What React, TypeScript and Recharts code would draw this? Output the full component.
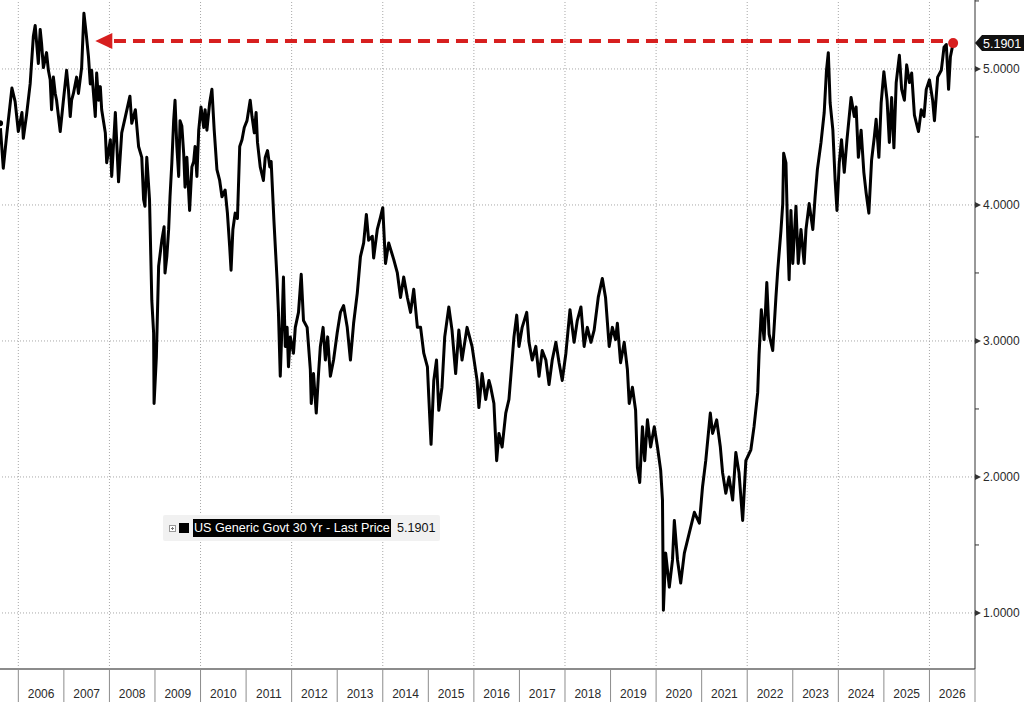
import { LineChart, Line, XAxis, YAxis, ReferenceLine, ReferenceDot } from "recharts"

// US Generic Govt 30 Yr yield, [year fraction, yield %]
const yields2005to2008: [number, number][] = [
  [2005.60, 4.60], [2005.67, 4.27], [2005.75, 4.53], [2005.86, 4.86], [2005.93, 4.76],
  [2006.00, 4.54], [2006.08, 4.68], [2006.11, 4.49], [2006.18, 4.66], [2006.26, 4.89],
  [2006.33, 5.24], [2006.37, 5.32], [2006.44, 5.04], [2006.48, 5.29], [2006.51, 5.19],
  [2006.55, 5.01], [2006.62, 5.12], [2006.66, 4.99], [2006.70, 4.92], [2006.73, 4.70],
  [2006.77, 4.94], [2006.81, 4.82], [2006.84, 4.77], [2006.92, 4.54], [2006.99, 4.77],
  [2007.06, 4.99], [2007.10, 4.85], [2007.14, 4.65], [2007.17, 4.77], [2007.21, 4.82],
  [2007.28, 4.94], [2007.32, 4.82], [2007.39, 5.01], [2007.44, 5.41], [2007.49, 5.26],
  [2007.54, 5.09], [2007.58, 4.89], [2007.61, 4.99], [2007.69, 4.65], [2007.72, 4.97],
  [2007.76, 4.77], [2007.80, 4.87], [2007.83, 4.70], [2007.91, 4.53], [2007.94, 4.31],
  [2008.02, 4.48], [2008.05, 4.21], [2008.13, 4.68], [2008.20, 4.17], [2008.27, 4.53],
  [2008.35, 4.65], [2008.45, 4.80], [2008.49, 4.60], [2008.57, 4.70], [2008.64, 4.43],
  [2008.71, 4.35], [2008.75, 4.04], [2008.78, 3.99], [2008.82, 4.35], [2008.88, 4.04],
  [2008.93, 3.30], [2008.97, 3.06], [2008.98, 2.54],
]

const yields2009to2012: [number, number][] = [
  [2009.03, 2.88], [2009.08, 3.55], [2009.15, 3.74], [2009.20, 3.84], [2009.22, 3.50],
  [2009.26, 3.62], [2009.30, 3.82], [2009.33, 4.06], [2009.37, 4.31], [2009.41, 4.62],
  [2009.44, 4.77], [2009.48, 4.43], [2009.52, 4.21], [2009.55, 4.62], [2009.59, 4.58],
  [2009.63, 4.38], [2009.66, 4.13], [2009.70, 4.35], [2009.76, 3.96], [2009.81, 4.28],
  [2009.85, 4.32], [2009.88, 4.43], [2009.92, 4.21], [2009.96, 4.55], [2010.01, 4.72],
  [2010.07, 4.57], [2010.10, 4.70], [2010.14, 4.55], [2010.20, 4.75], [2010.25, 4.85],
  [2010.30, 4.55], [2010.36, 4.26], [2010.42, 4.18], [2010.47, 4.06], [2010.54, 4.11],
  [2010.59, 3.94], [2010.64, 3.69], [2010.67, 3.52], [2010.71, 3.82], [2010.76, 3.94],
  [2010.81, 3.90], [2010.86, 4.43], [2010.91, 4.48], [2010.96, 4.57], [2011.02, 4.62],
  [2011.09, 4.77], [2011.13, 4.65], [2011.18, 4.53], [2011.22, 4.68], [2011.25, 4.46],
  [2011.31, 4.28], [2011.38, 4.18], [2011.42, 4.35], [2011.47, 4.40], [2011.52, 4.28],
  [2011.55, 4.32], [2011.61, 3.89], [2011.68, 3.45], [2011.71, 3.21], [2011.75, 2.74],
  [2011.79, 3.13], [2011.82, 3.47], [2011.86, 2.96], [2011.90, 3.10], [2011.93, 2.81],
  [2011.97, 3.03], [2012.04, 2.91], [2012.08, 3.10], [2012.15, 3.21], [2012.21, 3.49],
  [2012.26, 3.15], [2012.34, 3.10], [2012.41, 2.79], [2012.43, 2.54], [2012.48, 2.76],
  [2012.54, 2.47], [2012.59, 2.76], [2012.63, 2.96], [2012.69, 3.10], [2012.74, 2.86],
  [2012.79, 3.03], [2012.85, 2.74], [2012.92, 2.86],
]

const yields2013to2016: [number, number][] = [
  [2013.00, 3.06], [2013.07, 3.21], [2013.14, 3.26], [2013.22, 3.10], [2013.29, 2.86],
  [2013.36, 3.13], [2013.44, 3.35], [2013.51, 3.62], [2013.58, 3.72], [2013.64, 3.93],
  [2013.69, 3.74], [2013.77, 3.77], [2013.80, 3.61], [2013.88, 3.82], [2013.95, 3.91],
  [2014.00, 3.98], [2014.06, 3.57], [2014.13, 3.72], [2014.24, 3.60], [2014.32, 3.50],
  [2014.39, 3.32], [2014.46, 3.47], [2014.54, 3.32], [2014.61, 3.21], [2014.68, 3.38],
  [2014.76, 3.10], [2014.83, 3.10], [2014.90, 2.91], [2014.98, 2.81], [2015.01, 2.59],
  [2015.06, 2.24], [2015.12, 2.71], [2015.18, 2.86], [2015.23, 2.49], [2015.30, 2.66],
  [2015.36, 3.03], [2015.45, 3.25], [2015.52, 3.08], [2015.60, 2.76], [2015.67, 3.08],
  [2015.74, 2.86], [2015.85, 3.10], [2015.96, 2.96], [2016.07, 2.71], [2016.11, 2.51],
  [2016.18, 2.76], [2016.26, 2.57], [2016.33, 2.71], [2016.37, 2.66], [2016.44, 2.54],
  [2016.50, 2.12], [2016.55, 2.32], [2016.62, 2.22], [2016.70, 2.47], [2016.77, 2.57],
  [2016.84, 2.86], [2016.88, 3.03], [2016.94, 3.19], [2016.99, 2.96],
]

const yields2017to2020: [number, number][] = [
  [2017.06, 3.10], [2017.16, 3.21], [2017.21, 2.99], [2017.28, 2.86], [2017.36, 2.96],
  [2017.43, 2.74], [2017.50, 2.93], [2017.58, 2.86], [2017.65, 2.68], [2017.72, 2.86],
  [2017.80, 2.99], [2017.87, 2.84], [2017.94, 2.71], [2018.02, 2.91], [2018.11, 3.23],
  [2018.20, 2.99], [2018.27, 3.15], [2018.35, 3.25], [2018.42, 2.96], [2018.49, 3.10],
  [2018.57, 2.99], [2018.64, 3.08], [2018.73, 3.32], [2018.82, 3.46], [2018.89, 3.32],
  [2018.97, 2.96], [2019.04, 3.10], [2019.11, 3.01], [2019.15, 3.13], [2019.22, 2.84],
  [2019.30, 2.99], [2019.37, 2.79], [2019.41, 2.54], [2019.48, 2.66], [2019.55, 2.49],
  [2019.59, 2.07], [2019.64, 1.96], [2019.70, 2.37], [2019.75, 2.12], [2019.81, 2.42],
  [2019.88, 2.22], [2019.96, 2.37], [2020.03, 2.22], [2020.10, 2.05], [2020.14, 1.83],
  [2020.16, 1.02], [2020.21, 1.44], [2020.29, 1.19], [2020.36, 1.39], [2020.40, 1.68],
  [2020.47, 1.39], [2020.54, 1.22], [2020.62, 1.44], [2020.73, 1.59], [2020.84, 1.74],
  [2020.95, 1.66],
]

const yields2021to2024: [number, number][] = [
  [2021.02, 1.93], [2021.09, 2.12], [2021.19, 2.47], [2021.24, 2.32], [2021.33, 2.42],
  [2021.41, 2.22], [2021.46, 2.03], [2021.53, 1.88], [2021.60, 2.00], [2021.68, 1.83],
  [2021.75, 2.18], [2021.82, 2.03], [2021.90, 1.68], [2021.97, 2.12], [2022.08, 2.20],
  [2022.15, 2.37], [2022.23, 2.62], [2022.26, 2.90], [2022.31, 3.23], [2022.37, 3.01],
  [2022.43, 3.43], [2022.48, 3.05], [2022.56, 2.93], [2022.63, 3.32], [2022.67, 3.52],
  [2022.74, 3.81], [2022.78, 4.01], [2022.80, 4.38], [2022.85, 4.31], [2022.89, 3.76],
  [2022.92, 3.45], [2022.96, 3.96], [2023.00, 3.57], [2023.07, 3.99], [2023.12, 3.57],
  [2023.18, 3.82], [2023.25, 3.57], [2023.29, 3.82], [2023.36, 4.01], [2023.44, 3.82],
  [2023.49, 4.06], [2023.54, 4.26], [2023.62, 4.46], [2023.69, 4.68], [2023.74, 4.99],
  [2023.78, 5.12], [2023.82, 4.75], [2023.88, 4.55], [2023.93, 4.18], [2023.97, 3.96],
  [2024.02, 4.31], [2024.07, 4.48], [2024.13, 4.24], [2024.19, 4.48], [2024.28, 4.79],
  [2024.35, 4.65], [2024.39, 4.72], [2024.44, 4.35], [2024.50, 4.55], [2024.56, 4.24],
  [2024.61, 4.09], [2024.67, 3.94], [2024.73, 4.33], [2024.79, 4.50], [2024.83, 4.63],
  [2024.89, 4.35], [2024.94, 4.75],
]

const yields2025to2026: [number, number][] = [
  [2025.00, 4.98], [2025.07, 4.77], [2025.12, 4.46], [2025.17, 4.79], [2025.22, 4.42],
  [2025.27, 4.90], [2025.34, 5.10], [2025.39, 4.85], [2025.45, 4.77], [2025.50, 5.03],
  [2025.56, 4.90], [2025.61, 4.97], [2025.67, 4.66], [2025.76, 4.54], [2025.82, 4.70],
  [2025.88, 4.65], [2025.93, 4.85], [2026.00, 4.92], [2026.07, 4.77], [2026.11, 4.62],
  [2026.18, 4.94], [2026.26, 4.99], [2026.32, 5.16], [2026.37, 5.18], [2026.42, 4.85],
  [2026.46, 5.09], [2026.52, 5.1901],
]

const years = [2006, 2007, 2008, 2009, 2010, 2011, 2012, 2013, 2014, 2015, 2016,
  2017, 2018, 2019, 2020, 2021, 2022, 2023, 2024, 2025, 2026, 2027]
const gridYears = [2006, 2008, 2010, 2012, 2014, 2016, 2018, 2020, 2022, 2024, 2026]
const gridYields = [1, 2, 3, 4, 5]
const LAST_PRICE = 5.1901
const LAST_DATE = 2026.52
const yieldTicks = [1, 1.5, 2, 2.5, 3, 3.5, 4, 4.5, 5, LAST_PRICE, 5.5]
const ARROW_Y = 5.205
const ARROW_TIP = 2007.69
const DASH_START = 2008.1

const SERIES_NAME = "US Generic Govt 30 Yr - Last Price"

const series = [
  ...yields2005to2008, ...yields2009to2012, ...yields2013to2016,
  ...yields2017to2020, ...yields2021to2024, ...yields2025to2026,
].map(([t, v]) => ({ t, v }))

const W = 1024
const H = 702
const X_AXIS_H = 33
const Y_AXIS_W = 49
const X_MIN = 2005.598
const X_MAX = 2027.0
const HALF_YEAR = (W - Y_AXIS_W) / (X_MAX - X_MIN) / 2
const FONT = "'Liberation Sans', Arial, sans-serif"
const RED = "#d71f1f"

function YearTick(props: any) {
  const { x, y, payload } = props
  return (
    <g>
      <line x1={x} x2={x} y1={y} y2={y + X_AXIS_H} stroke="#8c8c8c" strokeWidth={1} />
      {payload.value < 2027 && (
        <text x={x + HALF_YEAR} y={y + 29} textAnchor="middle" fontSize={12} fontFamily={FONT} fill="#2a2a2a">
          {payload.value}
        </text>
      )}
    </g>
  )
}

function PriceTick(props: any) {
  const { x, y, payload } = props
  const v = payload.value
  if (v === LAST_PRICE) {
    return (
      <g>
        <polygon points={`${x},${y} ${x + 7},${y - 8} ${W},${y - 8} ${W},${y + 8} ${x + 7},${y + 8}`} fill="#111" />
        <text x={x + 8} y={y + 4.5} fontSize={12.5} fontFamily={FONT} fill="#fff">{v.toFixed(4)}</text>
      </g>
    )
  }
  if (Number.isInteger(v)) {
    return (
      <g>
        <polygon points={`${x},${y - 3} ${x + 6},${y} ${x},${y + 3}`} fill="#333" />
        <text x={x + 8} y={y + 4.5} fontSize={12} fontFamily={FONT} fill="#2a2a2a">{v.toFixed(4)}</text>
      </g>
    )
  }
  return <line x1={x} x2={x + 4} y1={y} y2={y} stroke="#333" strokeWidth={1} />
}

function ArrowHead(props: any) {
  const { cx, cy } = props
  return <polygon points={`${cx},${cy} ${cx + 17},${cy - 8} ${cx + 17},${cy + 8}`} fill={RED} />
}

function Legend() {
  return (
    <div style={{
      position: "absolute", left: 163, top: 515, width: 277, height: 26,
      background: "#f1f1f1", borderRadius: 2, fontFamily: FONT, fontSize: 12.6,
    }}>
      <svg style={{ position: "absolute", left: 6, top: 10 }} width={7} height={7}>
        <rect x={0.5} y={0.5} width={6} height={6} fill="#fff" stroke="#999" />
        <line x1={2} x2={5} y1={3.5} y2={3.5} stroke="#777" />
        <line x1={3.5} x2={3.5} y1={2} y2={5} stroke="#777" />
      </svg>
      <div style={{ position: "absolute", left: 16, top: 8, width: 10, height: 10, background: "#000" }} />
      <div style={{
        position: "absolute", left: 30, top: 4, height: 18, lineHeight: "18px",
        background: "#000", color: "#fff", padding: "0 1px", whiteSpace: "nowrap",
      }}>{SERIES_NAME}</div>
      <div style={{ position: "absolute", left: 234, top: 4, lineHeight: "18px", color: "#111" }}>
        {LAST_PRICE.toFixed(4)}
      </div>
    </div>
  )
}

export default function App() {
  return (
    <div style={{ position: "absolute", left: 0, top: 0, width: W, height: H, background: "#fff" }}>
      <LineChart width={W} height={H} data={series} margin={{ top: 0, right: 0, bottom: 0, left: 0 }}>
        <XAxis
          type="number" dataKey="t" domain={[X_MIN, X_MAX]} allowDataOverflow
          ticks={years} interval={0} height={X_AXIS_H}
          tickSize={0} tickMargin={0} tick={<YearTick />}
          axisLine={{ stroke: "#8c8c8c", strokeWidth: 2 }} tickLine={false}
        />
        <YAxis
          orientation="right" type="number" domain={[0.588, 5.507]} allowDataOverflow
          ticks={yieldTicks} interval={0} width={Y_AXIS_W}
          tickSize={0} tickMargin={0} tick={<PriceTick />}
          axisLine={{ stroke: "#333", strokeWidth: 1 }} tickLine={false}
        />
        {gridYields.map((v) => (
          <ReferenceLine key={`h${v}`} y={v} stroke="#a8a8a8" strokeDasharray="1 2" />
        ))}
        {gridYears.map((yr) => (
          <ReferenceLine key={`v${yr}`} x={yr} stroke="#a8a8a8" strokeDasharray="1 2" />
        ))}
        <Line type="linear" dataKey="v" stroke="#000" strokeWidth={3} strokeLinejoin="round" dot={false} isAnimationActive={false} />
        <ReferenceLine
          segment={[{ x: DASH_START, y: ARROW_Y }, { x: LAST_DATE, y: ARROW_Y }]}
          stroke={RED} strokeWidth={4} strokeDasharray="12 7"
        />
        <ReferenceDot x={ARROW_TIP} y={ARROW_Y} shape={<ArrowHead />} />
        <ReferenceDot x={LAST_DATE} y={LAST_PRICE} r={5} fill={RED} stroke="none" />
      </LineChart>
      <Legend />
    </div>
  )
}
